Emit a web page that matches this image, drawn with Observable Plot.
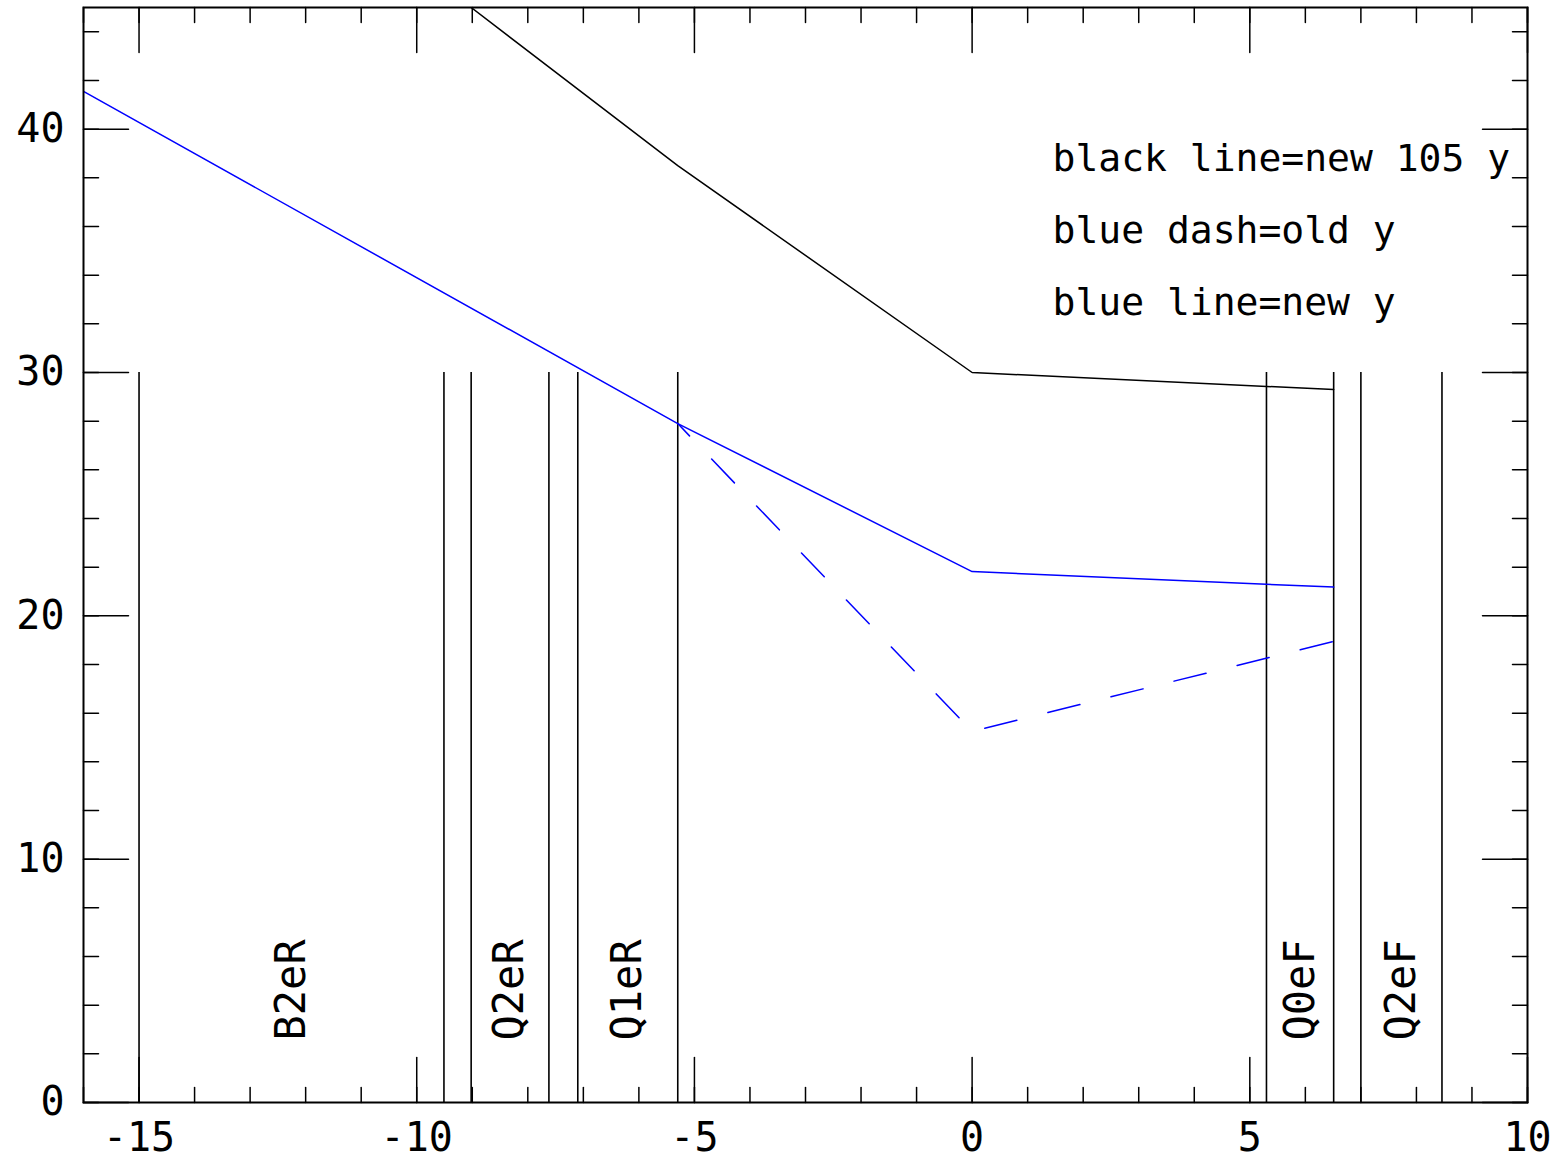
<!DOCTYPE html>
<html>
<head>
<meta charset="utf-8">
<script src="https://cdn.jsdelivr.net/npm/d3@7"></script>
<script src="https://cdn.jsdelivr.net/npm/@observablehq/plot@0.6"></script>
<style>
  html, body { margin: 0; padding: 0; background: #fff; }
  #chart svg { display: block; }
</style>
</head>
<body>
<div id="chart"></div>
<script>
// Beam-line position s (m) and vertical beam size y along the line
const blackS = [-9.02, -5.30, 0, 6.51];
const blackY = [45.0, 38.5, 30.0, 29.3];      // new 105 y

const blueS = [-16, -5.30, 0, 6.51];
const blueY = [41.55, 27.9, 21.82, 21.18];    // new y

const dashS = [-5.30, 0, 6.51];
const dashY = [27.9, 15.25, 18.95];           // old y

// Magnet element edges and names
const elementEdges = [-15.0, -9.51, -9.02, -7.62, -7.10, -5.30, 5.30, 6.51, 7.00, 8.46];
const elementTopY = 30;
const elementNames = ["B2eR", "Q2eR", "Q1eR", "Q0eF", "Q2eF"];
const elementCenters = [-12.25, -8.32, -6.20, 5.905, 7.73];
const elementLabelY = 2.55;

// Axis domains and ticks
const xDomain = [-16, 10];
const yDomain = [0, 45];
const xMajor = [-15, -10, -5, 0, 5, 10];
const xMinor = d3.range(-16, 11, 1);
const yMajor = [0, 10, 20, 30, 40];
const yMinor = d3.range(0, 46, 2);

const legendLines = ["black line=new 105 y", "blue dash=old y", "blue line=new y"];

const toPoints = (xs, ys) => xs.map((x, i) => ({x, y: ys[i]}));
const font = "DejaVu Sans Mono";

// Inward-pointing tick shape for the vector mark
const tickShape = {
  draw(context, length) {
    context.moveTo(0, 0);
    context.lineTo(0, -length);
  }
};

function ticks(values, side, len) {
  const opts = {length: len, anchor: "start", shape: tickShape, stroke: "black", strokeWidth: 1.5};
  if (side === "bottom") return Plot.vector(values, {...opts, x: d => d, y: () => yDomain[0], rotate: 0});
  if (side === "top") return Plot.vector(values, {...opts, x: d => d, y: () => yDomain[1], rotate: 180});
  if (side === "left") return Plot.vector(values, {...opts, x: () => xDomain[0], y: d => d, rotate: 90});
  return Plot.vector(values, {...opts, x: () => xDomain[1], y: d => d, rotate: 270});
}

const chart = Plot.plot({
  width: 1551,
  height: 1159,
  marginLeft: 83,
  marginRight: 24,
  marginTop: 7,
  marginBottom: 57,
  style: {fontFamily: font, background: "white", color: "black"},
  x: {domain: xDomain, label: null},
  y: {domain: yDomain, label: null},
  marks: [
    // element boundaries
    Plot.ruleX(elementEdges, {x: d => d, y1: () => yDomain[0], y2: () => elementTopY, stroke: "black", strokeWidth: 1.6}),
    Plot.text(elementNames, {
      x: (d, i) => elementCenters[i], y: () => elementLabelY, text: d => d,
      rotate: -90, textAnchor: "start", lineAnchor: "middle",
      fontSize: 42, fontFamily: font, fill: "black"
    }),
    // beam size curves
    Plot.line(toPoints(blackS, blackY), {x: "x", y: "y", stroke: "black", strokeWidth: 1.5, clip: true}),
    Plot.line(toPoints(blueS, blueY), {x: "x", y: "y", stroke: "#0000ff", strokeWidth: 1.5, clip: true}),
    Plot.line(toPoints(dashS, dashY), {
      x: "x", y: "y", stroke: "#0000ff", strokeWidth: 1.5,
      strokeDasharray: "33,32", strokeDashoffset: 16, clip: true
    }),
    // legend text
    Plot.text([legendLines.join("\n")], {
      text: d => d, frameAnchor: "top-left", dx: 969, dy: 112,
      textAnchor: "start", lineAnchor: "top", lineHeight: 1.9,
      fontSize: 38, fontFamily: font, fill: "black"
    }),
    // ticks on all four sides
    ticks(xMinor, "bottom", 15), ticks(xMajor, "bottom", 45),
    ticks(xMinor, "top", 15), ticks(xMajor, "top", 45),
    ticks(yMinor, "left", 15), ticks(yMajor, "left", 45),
    ticks(yMinor, "right", 15), ticks(yMajor, "right", 45),
    // tick labels
    Plot.axisX(xMajor, {tickSize: 0, tickPadding: 20, fontSize: 40, fontFamily: font, tickFormat: d => String(d), label: null}),
    Plot.axisY(yMajor, {tickSize: 0, tickPadding: 19, fontSize: 40, fontFamily: font, tickFormat: d => String(d), label: null}),
    Plot.frame({stroke: "black", strokeWidth: 2})
  ]
});

document.getElementById("chart").appendChild(chart);
</script>
</body>
</html>
